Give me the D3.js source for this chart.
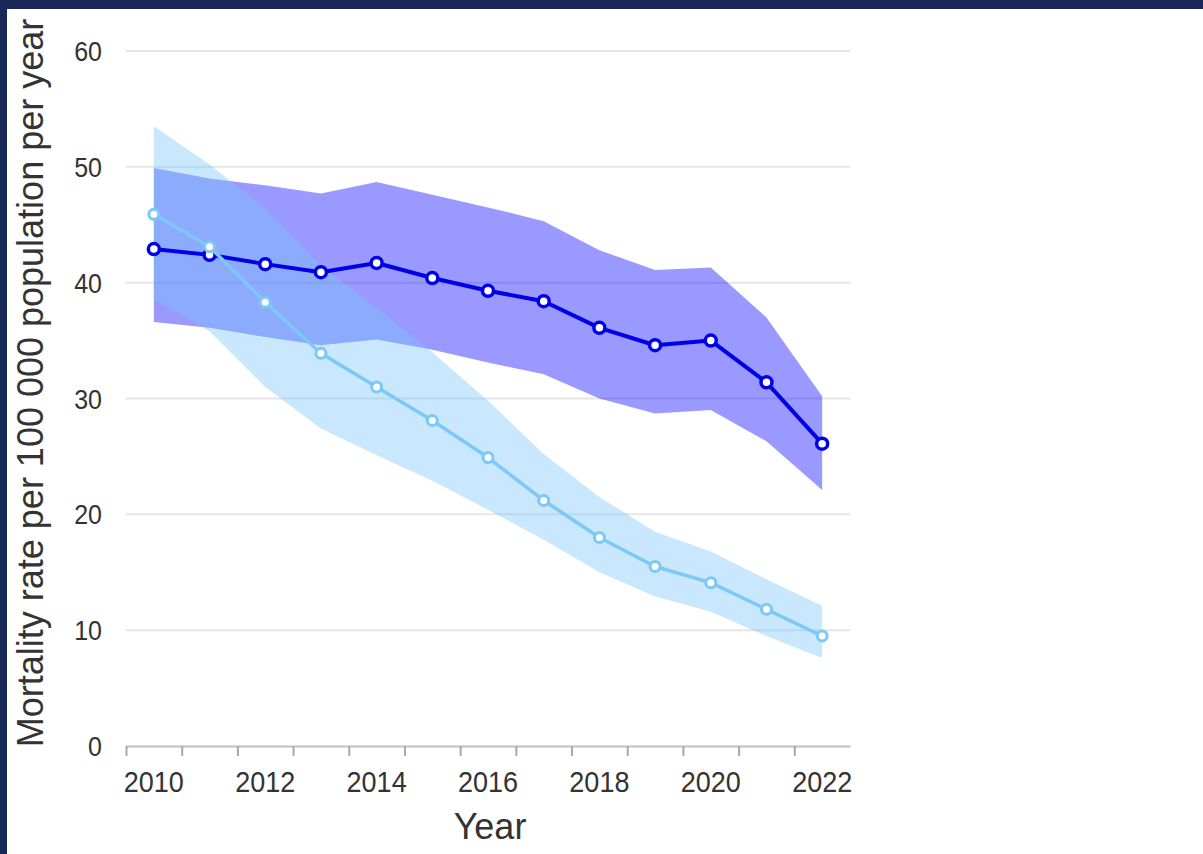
<!DOCTYPE html>
<html>
<head>
<meta charset="utf-8">
<script src="https://cdn.jsdelivr.net/npm/d3@7"></script>
<style>
    html, body { margin: 0; padding: 0; background: #ffffff; }
    svg text { font-family: "Liberation Sans", Arial, sans-serif; }
</style>
</head>
<body>
<svg id="chart"></svg>
<script>
// mortality rate chart

const years = [2010, 2011, 2012, 2013, 2014, 2015, 2016, 2017, 2018, 2019, 2020, 2021, 2022];
const yTicks = [0, 10, 20, 30, 40, 50, 60];
const xLabelYears = [2010, 2012, 2014, 2016, 2018, 2020, 2022];

// dark blue series + its uncertainty band
const darkRate  = [42.9, 42.4, 41.6, 40.9, 41.7, 40.4, 39.3, 38.4, 36.1, 34.6, 35.0, 31.4, 26.1];
const darkUpper = [49.9, 49.0, 48.4, 47.7, 48.7, 47.6, 46.5, 45.3, 42.8, 41.1, 41.3, 37.0, 30.2];
const darkLower = [36.6, 36.1, 35.3, 34.6, 35.1, 34.2, 33.1, 32.1, 30.0, 28.7, 29.0, 26.3, 22.1];

// light blue series + its uncertainty band
const lightRate  = [45.9, 43.1, 38.3, 33.9, 31.0, 28.1, 24.9, 21.2, 18.0, 15.5, 14.1, 11.8, 9.5];
const lightUpper = [53.5, 50.2, 46.4, 41.5, 37.8, 34.0, 29.8, 25.2, 21.5, 18.5, 16.8, 14.4, 12.1];
const lightLower = [38.6, 35.8, 31.0, 27.4, 25.1, 22.9, 20.4, 17.8, 15.0, 12.9, 11.6, 9.5, 7.6];

const width = 1203, height = 854;
const plot = {left: 126, right: 850, top: 51, bottom: 746};

const DARK = "#0000e6";
const LIGHT = "#7cc8f6";
const TEXT = "#333333";

let svg = d3.select("#chart")
    .attr("width", width)
    .attr("height", height);

svg.append("rect")
    .attr("width", width)
    .attr("height", height)
    .attr("fill", "#ffffff");

// categories sit in the middle of each year slot
const x = d3.scaleLinear()
    .domain([years[0] - 0.5, years[years.length - 1] + 0.5])
    .range([plot.left, plot.right]);

const y = d3.scaleLinear()
    .domain([0, 60])
    .range([plot.bottom, plot.top]);

// horizontal grid lines
svg.append("g")
    .selectAll("line")
    .data(yTicks.filter(d => d > 0))
    .enter()
    .append("line")
    .attr("x1", plot.left)
    .attr("x2", plot.right)
    .attr("y1", d => y(d))
    .attr("y2", d => y(d))
    .attr("stroke", "#e6e6e6")
    .attr("stroke-width", 2);

// y tick labels (slightly tall, like the screenshot)
svg.append("g")
    .selectAll("text")
    .data(yTicks)
    .enter()
    .append("text")
    .attr("transform", d => `translate(102,${y(d) + 10}) scale(1,1.12)`)
    .attr("text-anchor", "end")
    .attr("font-size", 25)
    .attr("fill", TEXT)
    .text(d => d);

// x axis: ticks on slot edges, labels on every other year
const edges = years.map(d => d - 0.5);

let xAxis = svg.append("g")
    .attr("transform", `translate(0,${plot.bottom})`)
    .call(d3.axisBottom(x).tickValues(edges).tickFormat("").tickSize(10).tickSizeOuter(0));

xAxis.select(".domain")
    .attr("stroke", "#c0c0c0")
    .attr("stroke-width", 2);
xAxis.selectAll(".tick line")
    .attr("stroke", "#a8a8a8")
    .attr("stroke-width", 2);

svg.append("g")
    .selectAll("text")
    .data(xLabelYears)
    .enter()
    .append("text")
    .attr("transform", d => `translate(${x(d)},792) scale(1,1.08)`)
    .attr("text-anchor", "middle")
    .attr("font-size", 27)
    .attr("fill", TEXT)
    .text(d => d);

// bands
var area = function(lower, upper) {
    return d3.area()
        .x((d, i) => x(years[i]))
        .y0((d, i) => y(lower[i]))
        .y1((d, i) => y(upper[i]))(years);
};

svg.append("path")
    .attr("d", area(darkLower, darkUpper))
    .attr("fill", "#0000ff")
    .attr("fill-opacity", 0.4);

svg.append("path")
    .attr("d", area(lightLower, lightUpper))
    .attr("fill", "#7bc5fa")
    .attr("fill-opacity", 0.4);

// lines with hollow markers
var drawSeries = function(values, color, lineWidth, r, markerWidth) {
    const line = d3.line()
        .x((d, i) => x(years[i]))
        .y(d => y(d));

    svg.append("path")
        .attr("d", line(values))
        .attr("fill", "none")
        .attr("stroke", color)
        .attr("stroke-width", lineWidth)
        .attr("stroke-linejoin", "round");

    svg.append("g")
        .selectAll("circle")
        .data(values)
        .enter()
        .append("circle")
        .attr("cx", (d, i) => x(years[i]))
        .attr("cy", d => y(d))
        .attr("r", r)
        .attr("fill", "#ffffff")
        .attr("stroke", color)
        .attr("stroke-width", markerWidth);
};

drawSeries(darkRate, DARK, 4, 5.5, 3.5);
drawSeries(lightRate, LIGHT, 3.5, 5, 3);

// axis titles
svg.append("text")
    .attr("transform", "translate(43,383) rotate(-90)")
    .attr("text-anchor", "middle")
    .attr("font-size", 36)
    .attr("fill", TEXT)
    .text("Mortality rate per 100 000 population per year");

svg.append("text")
    .attr("transform", "translate(490,839) scale(1,1.05)")
    .attr("text-anchor", "middle")
    .attr("font-size", 36)
    .attr("fill", TEXT)
    .text("Year");

// dark page frame at top and left
svg.append("rect")
    .attr("x", 0).attr("y", 0)
    .attr("width", width).attr("height", 9)
    .attr("fill", "#1a2858");
svg.append("rect")
    .attr("x", 0).attr("y", 0)
    .attr("width", 7).attr("height", height)
    .attr("fill", "#1a2858");
</script>
</body>
</html>
